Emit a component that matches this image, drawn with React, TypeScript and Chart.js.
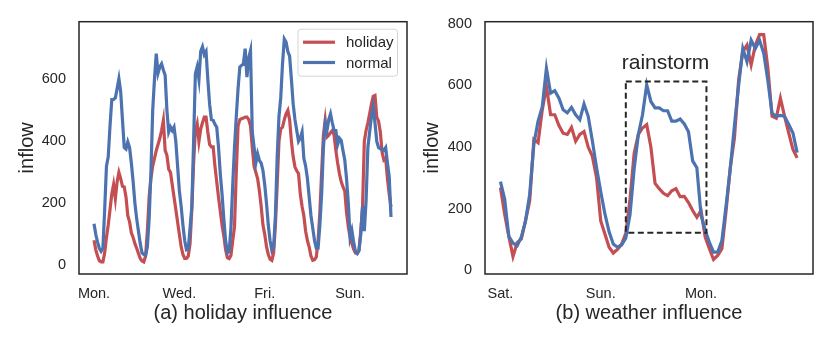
import React, { useEffect, useRef } from "react";
import { Chart, registerables } from "chart.js";

Chart.register(...registerables);

// ---------- data: panel (a) holiday influence, hourly over one week ----------
const weekHolidayInflow = [
  81, 50, 30, 15, 11, 11, 40, 90, 130, 180, 230, 260, 215, 270, 300, 280, 255, 253, 220, 160, 140, 105, 90, 70,
  55, 38, 22, 14, 11, 30, 110, 220, 280, 320, 345, 370, 390, 410, 435, 468, 371, 355, 310, 300, 260, 220, 180, 140,
  100, 60, 35, 22, 22, 30, 70, 180, 330, 435, 457, 400, 440, 460, 478, 478, 430, 390, 382, 382, 320, 270, 220, 175,
  130, 95, 50, 25, 22, 32, 80, 124, 300, 450, 470, 473, 475, 478, 478, 470, 450, 380, 320, 300, 280, 240, 190, 130,
  100, 60, 35, 20, 16, 40, 130, 260, 400, 440, 446, 470, 489, 500, 470, 400, 350, 317, 305, 296, 230, 190, 160, 110,
  80, 59, 30, 16, 18, 27, 80, 170, 300, 420, 468, 414, 420, 428, 435, 420, 370, 330, 296, 270, 253, 240, 170, 124,
  91, 70, 52, 40, 38, 48, 110, 188, 400, 435, 460, 489, 520, 545, 548, 478, 465, 430, 365, 340, 345, 280, 230, 188,
];
const weekNormalInflow = [
  134, 100, 75, 55, 45, 55, 180, 320, 350, 450, 535, 535, 540, 570, 602, 560, 470, 380, 375, 398, 380, 330, 270, 200,
  150, 110, 70, 40, 35, 32, 60, 150, 300, 500, 600, 683, 620, 640, 650, 630, 613, 500, 430, 446, 435, 446, 400, 320,
  240, 190, 130, 80, 50, 52, 120, 188, 400, 618, 640, 600, 690, 705, 680, 690, 600, 520, 470, 468, 455, 446, 382, 296,
  230, 150, 80, 40, 45, 120, 260, 380, 480, 570, 640, 645, 650, 699, 607, 670, 693, 430, 382, 330, 360, 339, 330, 306,
  260, 200, 130, 80, 48, 60, 160, 350, 480, 540, 650, 730, 720, 690, 675, 600, 520, 470, 435, 400, 410, 430, 345, 320,
  280, 220, 160, 120, 80, 55, 55, 130, 230, 380, 457, 435, 470, 489, 460, 435, 435, 390, 410, 403, 370, 340, 280, 200,
  90, 113, 75, 45, 38, 48, 100, 190, 110, 210, 380, 430, 480, 511, 460, 400, 380, 376, 374, 371, 380, 330, 285, 156,
];
const weekTickHours = [0, 48, 96, 144];
const weekTickLabels = ["Mon.", "Wed.", "Fri.", "Sun."];
const weekValueTicks = [0, 200, 400, 600];

// ---------- data: panel (b) weather influence, hourly over three days ----------
const rainInflow = [
  269, 183, 110, 45, 90, 102, 161, 226, 425, 414, 520, 597, 505, 505, 470, 445, 441, 464, 419, 441, 450, 400, 370, 301,
  160, 118, 75, 56, 68, 85, 120, 230, 380, 441, 462, 473, 400, 282, 265, 250, 242, 258, 265, 239, 240, 220, 194, 172,
  194, 108, 70, 35, 48, 70, 194, 333, 430, 618, 710, 731, 667, 731, 765, 765, 656, 500, 494, 559, 500, 445, 392, 365,
];
const dryInflow = [
  288, 231, 110, 88, 80, 108, 160, 247, 410, 484, 530, 656, 575, 583, 559, 521, 511, 529, 505, 489, 540, 500, 420, 333,
  255, 183, 125, 85, 75, 82, 105, 180, 330, 441, 505, 602, 548, 527, 527, 518, 518, 484, 484, 491, 475, 450, 355, 333,
  180, 130, 91, 59, 59, 97, 210, 330, 470, 600, 720, 677, 747, 720, 747, 705, 615, 510, 500, 503, 500, 473, 446, 382,
];
const dayTickHours = [0, 24, 48];
const dayTickLabels = ["Sat.", "Sun.", "Mon."];
const dayValueTicks = [0, 200, 400, 600, 800];
const rainstormHours = [30, 49.3];
const rainstormRange = [122, 613];
const rainstormLabel = "rainstorm";
const rainstormLabelAt = [39.5, 654];

// ---------- styles ----------
const RED = "#C44E52";
const BLUE = "#4C72B0";
const INK = "#262626";
const FONT = "'Liberation Sans', Arial, sans-serif";
const LINE_W = 3.2;

const toPoints = (arr: number[]) => arr.map((v, i) => ({ x: i, y: v }));

const framePlugin = {
  id: "frame",
  afterDraw(chart: any) {
    const { ctx, chartArea } = chart;
    ctx.save();
    ctx.strokeStyle = INK;
    ctx.lineWidth = 1.5;
    ctx.strokeRect(chartArea.left, chartArea.top, chartArea.right - chartArea.left, chartArea.bottom - chartArea.top);
    ctx.restore();
  },
};

const insideLegendPlugin = {
  id: "insideLegend",
  afterDatasetsDraw(chart: any) {
    const { ctx, chartArea } = chart;
    const boxR = chartArea.right - 9.5;
    const boxL = boxR - 99.5;
    const boxT = chartArea.top + 7.5;
    const boxH = 47;
    ctx.save();
    ctx.beginPath();
    const r = 3;
    ctx.moveTo(boxL + r, boxT);
    ctx.lineTo(boxR - r, boxT);
    ctx.quadraticCurveTo(boxR, boxT, boxR, boxT + r);
    ctx.lineTo(boxR, boxT + boxH - r);
    ctx.quadraticCurveTo(boxR, boxT + boxH, boxR - r, boxT + boxH);
    ctx.lineTo(boxL + r, boxT + boxH);
    ctx.quadraticCurveTo(boxL, boxT + boxH, boxL, boxT + boxH - r);
    ctx.lineTo(boxL, boxT + r);
    ctx.quadraticCurveTo(boxL, boxT, boxL + r, boxT);
    ctx.closePath();
    ctx.fillStyle = "rgba(255,255,255,0.85)";
    ctx.fill();
    ctx.strokeStyle = "#d5d5d5";
    ctx.lineWidth = 1;
    ctx.stroke();
    const entries = chart.data.datasets
      .map((d: any) => ({ label: d.label, color: d.borderColor, legendRank: d.legendRank }))
      .sort((a: any, b: any) => a.legendRank - b.legendRank);
    entries.forEach((e: any, i: number) => {
      const y = boxT + 13 + i * 20.3;
      ctx.beginPath();
      ctx.strokeStyle = e.color;
      ctx.lineWidth = LINE_W;
      ctx.lineCap = "butt";
      ctx.moveTo(boxL + 5, y);
      ctx.lineTo(boxL + 37, y);
      ctx.stroke();
      ctx.fillStyle = INK;
      ctx.font = `15px ${FONT}`;
      ctx.textBaseline = "middle";
      ctx.textAlign = "left";
      ctx.fillText(e.label, boxL + 48, y + 1);
    });
    ctx.restore();
  },
};

const rainstormPlugin = {
  id: "rainstorm",
  afterDatasetsDraw(chart: any) {
    const { ctx, scales } = chart;
    const x0 = scales.x.getPixelForValue(rainstormHours[0]);
    const x1 = scales.x.getPixelForValue(rainstormHours[1]);
    const y0 = scales.y.getPixelForValue(rainstormRange[1]);
    const y1 = scales.y.getPixelForValue(rainstormRange[0]);
    ctx.save();
    ctx.strokeStyle = INK;
    ctx.lineWidth = 2;
    ctx.setLineDash([6, 3.5]);
    ctx.strokeRect(x0, y0, x1 - x0, y1 - y0);
    ctx.setLineDash([]);
    ctx.fillStyle = INK;
    ctx.font = `21px ${FONT}`;
    ctx.textAlign = "center";
    ctx.textBaseline = "alphabetic";
    ctx.fillText(
      rainstormLabel,
      scales.x.getPixelForValue(rainstormLabelAt[0]),
      scales.y.getPixelForValue(rainstormLabelAt[1])
    );
    ctx.restore();
  },
};

type PanelProps = {
  red: number[];
  blue: number[];
  redLabel: string;
  blueLabel: string;
  xMin: number;
  xMax: number;
  yMin: number;
  yMax: number;
  xTicks: number[];
  xTickLabels: string[];
  yTicks: number[];
  title: string;
  yAxisWidth: number;
  padRight: number;
  yTitlePad: number;
  extraPlugins: any[];
};

function Panel(p: PanelProps) {
  const ref = useRef<HTMLCanvasElement | null>(null);
  useEffect(() => {
    if (!ref.current) return;
    const chart = new Chart(ref.current, {
      type: "line",
      data: {
        datasets: [
          {
            label: p.redLabel,
            legendRank: 0,
            data: toPoints(p.red),
            borderColor: RED,
            backgroundColor: RED,
            borderWidth: LINE_W,
            pointRadius: 0,
            tension: 0,
            fill: false,
            order: 1,
          } as any,
          {
            label: p.blueLabel,
            legendRank: 1,
            data: toPoints(p.blue),
            borderColor: BLUE,
            backgroundColor: BLUE,
            borderWidth: LINE_W,
            pointRadius: 0,
            tension: 0,
            fill: false,
            order: 0,
          } as any,
        ],
      },
      options: {
        responsive: false,
        animation: false,
        events: [],
        layout: { padding: { left: 0, right: p.padRight, top: 21, bottom: 17 } },
        plugins: { legend: { display: false }, tooltip: { enabled: false } },
        scales: {
          x: {
            type: "linear",
            min: p.xMin,
            max: p.xMax,
            grid: { display: false, drawTicks: false },
            border: { display: false },
            afterBuildTicks: (s: any) => {
              s.ticks = p.xTicks.map((v) => ({ value: v }));
            },
            afterFit: (s: any) => {
              s.height = 51;
            },
            ticks: {
              autoSkip: false,
              maxRotation: 0,
              padding: 11,
              color: INK,
              font: { size: 14.5, family: FONT },
              callback: (v: any) => {
                const i = p.xTicks.indexOf(Number(v));
                return i >= 0 ? p.xTickLabels[i] : "";
              },
            },
            title: {
              display: true,
              text: p.title,
              color: INK,
              font: { size: 20, family: FONT },
              padding: { top: 0, bottom: 0 },
            },
          },
          y: {
            type: "linear",
            min: p.yMin,
            max: p.yMax,
            grid: { display: false, drawTicks: false },
            border: { display: false },
            afterBuildTicks: (s: any) => {
              s.ticks = p.yTicks.map((v) => ({ value: v }));
            },
            afterFit: (s: any) => {
              s.width = p.yAxisWidth;
            },
            ticks: {
              padding: 13,
              color: INK,
              font: { size: 14.5, family: FONT },
              callback: (v: any) => String(v),
            },
            title: {
              display: true,
              text: "inflow",
              color: INK,
              font: { size: 20, family: FONT },
              padding: { top: p.yTitlePad, bottom: 0 },
            },
          },
        },
      } as any,
      plugins: [framePlugin, ...p.extraPlugins],
    });
    return () => chart.destroy();
  }, []);
  return <canvas ref={ref} width={415} height={342} style={{ display: "block", width: 415, height: 342 }} />;
}

export default function App() {
  return (
    <div
      style={{
        position: "absolute",
        left: 0,
        top: 0,
        width: 830,
        height: 342,
        display: "flex",
        background: "#ffffff",
      }}
    >
      <Panel
        red={weekHolidayInflow}
        blue={weekNormalInflow}
        redLabel="holiday"
        blueLabel="normal"
        xMin={-8.44}
        xMax={176}
        yMin={-28}
        yMax={786}
        xTicks={weekTickHours}
        xTickLabels={weekTickLabels}
        yTicks={weekValueTicks}
        title="(a) holiday influence"
        yAxisWidth={79}
        padRight={8}
        yTitlePad={15}
        extraPlugins={[insideLegendPlugin]}
      />
      <Panel
        red={rainInflow}
        blue={dryInflow}
        redLabel="rainstorm"
        blueLabel="normal"
        xMin={-3.7}
        xMax={74.8}
        yMin={-12}
        yMax={807}
        xTicks={dayTickHours}
        xTickLabels={dayTickLabels}
        yTicks={dayValueTicks}
        title="(b) weather influence"
        yAxisWidth={70}
        padRight={17}
        yTitlePad={5}
        extraPlugins={[rainstormPlugin]}
      />
    </div>
  );
}
